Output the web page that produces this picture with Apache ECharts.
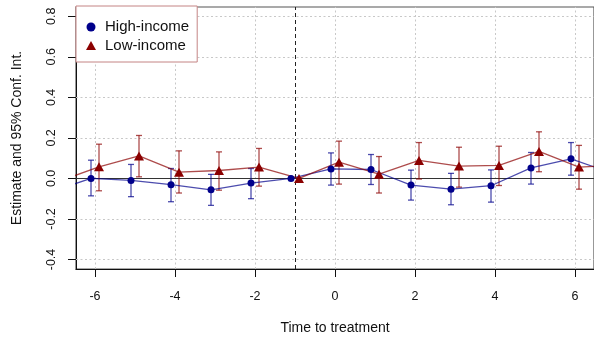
<!DOCTYPE html>
<html>
<head>
<meta charset="utf-8">
<script src="https://cdn.jsdelivr.net/npm/echarts@6/dist/echarts.min.js"></script>
<style>
  html, body { margin: 0; padding: 0; background: #fff; }
  #chart { width: 594px; height: 343px; }
</style>
</head>
<body>
<div id="chart"></div>
<script>
// Event-study estimates by period relative to treatment (reference period -1 fixed at 0).
const periods = [-7, -6, -5, -4, -3, -2, -1, 0, 1, 2, 3, 4, 5, 6, 7];

const highEst = [-0.066, 0.000, -0.010, -0.031, -0.056, -0.023, 0, 0.047, 0.044, -0.033, -0.053, -0.036, 0.052, 0.097, 0.027];
const highLo  = [null, -0.086, -0.090, -0.115, -0.133, -0.100, null, -0.033, -0.030, -0.107, -0.130, -0.117, -0.028, 0.016, null];
const highHi  = [null, 0.090, 0.069, 0.049, 0.020, 0.049, null, 0.126, 0.118, 0.041, 0.025, 0.042, 0.128, 0.177, null];

const lowEst = [-0.014, 0.057, 0.111, 0.031, 0.039, 0.056, 0, 0.080, 0.021, 0.089, 0.061, 0.064, 0.133, 0.056, 0.065];
const lowLo  = [null, -0.061, 0.008, -0.072, -0.058, -0.038, null, -0.028, -0.072, -0.003, -0.043, -0.035, 0.033, -0.053, null];
const lowHi  = [null, 0.169, 0.212, 0.136, 0.131, 0.148, null, 0.184, 0.108, 0.177, 0.154, 0.159, 0.230, 0.163, null];

const xTicks = [-6, -4, -2, 0, 2, 4, 6];
const yTicks = [-0.4, -0.2, 0.0, 0.2, 0.4, 0.6, 0.8];
const refPeriod = -1;

// The two groups are dodged slightly left/right of each period.
const dodge = 0.1;

const highColor = '#00008B';
const highSoft = 'rgba(0,0,139,0.7)';
const lowColor = '#8B0000';
const lowSoft = 'rgba(139,0,0,0.7)';
const font = 'Liberation Sans, Arial, sans-serif';

function points(est, shift) {
  return periods.map((t, i) => [t + shift, est[i]]);
}
function intervals(lo, hi, shift) {
  const out = [];
  periods.forEach((t, i) => {
    if (lo[i] != null && hi[i] != null) out.push([t + shift, lo[i], hi[i]]);
  });
  return out;
}

function errorBars(color) {
  return function (params, api) {
    const x = api.value(0);
    const top = api.coord([x, api.value(2)]);
    const bot = api.coord([x, api.value(1)]);
    const cap = 3;
    const style = { stroke: color, lineWidth: 1.3 };
    return {
      type: 'group',
      children: [
        { type: 'line', shape: { x1: top[0], y1: top[1], x2: bot[0], y2: bot[1] }, style },
        { type: 'line', shape: { x1: top[0] - cap, y1: top[1], x2: top[0] + cap, y2: top[1] }, style },
        { type: 'line', shape: { x1: bot[0] - cap, y1: bot[1], x2: bot[0] + cap, y2: bot[1] }, style }
      ]
    };
  };
}

const chart = echarts.init(document.getElementById('chart'), null, { renderer: 'canvas' });

const gridLines = xTicks.map(v => ({ xAxis: v })).concat(yTicks.map(v => ({ yAxis: v })));

chart.setOption({
  animation: false,
  textStyle: { fontFamily: font },
  grid: {
    left: 76, top: 7, width: 519, height: 262,
    show: true, borderColor: '#555', borderWidth: 1.2, backgroundColor: 'transparent'
  },
  legend: {
    left: 76, top: 6,
    orient: 'vertical',
    padding: [13.5, 8, 9, 10],
    itemGap: 3.5,
    itemWidth: 10,
    itemHeight: 9,
    backgroundColor: '#fff',
    borderColor: '#c48484',
    borderWidth: 1,
    borderRadius: 0,
    textStyle: { fontSize: 15, color: '#111', fontFamily: font, padding: [0, 0, 0, 4] },
    data: [
      { name: 'High-income', icon: 'circle', itemStyle: { color: highColor } },
      { name: 'Low-income', icon: 'triangle', itemStyle: { color: lowColor } }
    ]
  },
  xAxis: {
    type: 'value',
    min: -6.475, max: 6.475,
    name: 'Time to treatment',
    nameLocation: 'middle',
    nameGap: 52,
    nameTextStyle: { fontSize: 14, color: '#111', fontFamily: font },
    axisLine: { show: true, onZero: false, lineStyle: { color: '#111', width: 1 } },
    axisTick: { show: true, customValues: xTicks, length: 8, lineStyle: { color: '#111' } },
    axisLabel: { customValues: xTicks, margin: 21, fontSize: 12.5, color: '#111', formatter: v => String(v) },
    splitLine: { show: false }
  },
  yAxis: {
    type: 'value',
    min: -0.447, max: 0.846,
    name: 'Estimate and 95% Conf. Int.',
    nameLocation: 'middle',
    nameRotate: 90,
    nameGap: 52,
    nameTextStyle: { fontSize: 14, color: '#111', fontFamily: font },
    axisLine: { show: true, onZero: false, lineStyle: { color: '#111', width: 1 } },
    axisTick: { show: true, customValues: yTicks, length: 8, lineStyle: { color: '#111' } },
    axisLabel: {
      customValues: yTicks, rotate: 90, margin: 18, fontSize: 12.5, color: '#111',
      align: 'center', verticalAlign: 'bottom',
      formatter: v => v.toFixed(1)
    },
    splitLine: { show: false }
  },
  series: [
    {
      // reference lines: dotted grid, zero line, treatment marker
      type: 'line',
      data: [],
      silent: true,
      z: 1,
      markLine: {
        silent: true,
        symbol: 'none',
        z: 1,
        animation: false,
        label: { show: false },
        lineStyle: { color: '#c8c8c8', type: [2, 2.5], width: 1 },
        data: gridLines.concat([
          { yAxis: 0, lineStyle: { color: '#333', type: 'solid', width: 1.2 } },
          { xAxis: refPeriod, lineStyle: { color: '#222', type: [4, 3], width: 1 } }
        ])
      }
    },
    {
      name: 'High-income CI',
      type: 'custom',
      renderItem: errorBars(highSoft),
      data: intervals(highLo, highHi, -dodge),
      clip: true,
      z: 2
    },
    {
      name: 'Low-income CI',
      type: 'custom',
      renderItem: errorBars(lowSoft),
      data: intervals(lowLo, lowHi, dodge),
      clip: true,
      z: 2
    },
    {
      name: 'High-income',
      type: 'line',
      data: points(highEst, -dodge),
      symbol: 'circle',
      symbolSize: 7,
      showAllSymbol: true,
      clip: true,
      itemStyle: { color: highColor },
      lineStyle: { color: highSoft, width: 1.3 },
      z: 3
    },
    {
      name: 'Low-income',
      type: 'line',
      data: points(lowEst, dodge),
      symbol: 'triangle',
      symbolSize: [10, 9],
      showAllSymbol: true,
      clip: true,
      itemStyle: { color: lowColor },
      lineStyle: { color: lowSoft, width: 1.3 },
      z: 3
    }
  ]
});
</script>
</body>
</html>
